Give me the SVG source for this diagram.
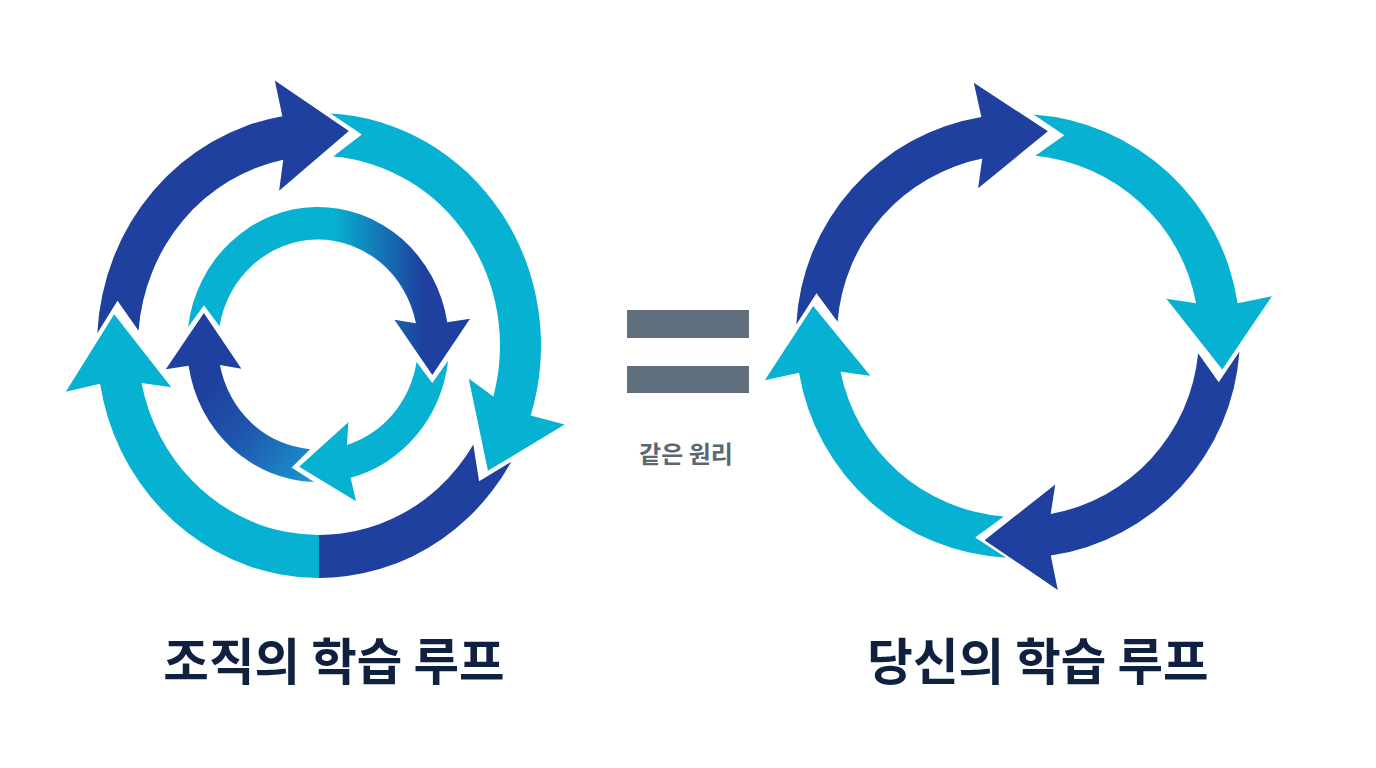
<svg xmlns="http://www.w3.org/2000/svg" xmlns:xlink="http://www.w3.org/1999/xlink" width="1376" height="768" viewBox="0 0 1376 768">
  <style>
    .dark { fill: #1f409e; }
    .light { fill: #07b1d1; }
    .title { font-family: "Noto Sans CJK KR", "Noto Sans", sans-serif; font-weight: 700; font-size: 49.5px; fill: #10213f; text-anchor: middle; }
    .sub { font-family: "Noto Sans CJK KR", "Noto Sans", sans-serif; font-weight: 700; font-size: 24px; fill: #5c6670; text-anchor: middle; }
    .bar { fill: #5f6f7e; }
  </style>
  <defs>
    <path id="oa" d="M -221.70 -11.62 L -201.50 -42.83 L -180.44 -14.20 A 181 181 0 0 1 -35.78 -177.43 L -39.86 -147.72 L 29.88 -204.83 L -44.19 -253.17 L -36.64 -218.96 A 222 222 0 0 0 -221.70 -11.62 Z"/>
    <linearGradient id="split" gradientUnits="userSpaceOnUse" x1="-10" y1="0" x2="10" y2="0">
      <stop offset="0" stop-color="#07b1d1"/>
      <stop offset="0.5" stop-color="#07b1d1"/>
      <stop offset="0.5" stop-color="#1f409e"/>
      <stop offset="1" stop-color="#1f409e"/>
    </linearGradient>
    <linearGradient id="in1" gradientUnits="userSpaceOnUse" x1="15" y1="0" x2="105" y2="0">
      <stop offset="0" stop-color="#07b1d1"/>
      <stop offset="1" stop-color="#1f409e"/>
    </linearGradient>
    <linearGradient id="in3" gradientUnits="userSpaceOnUse" x1="-100" y1="30" x2="0" y2="125">
      <stop offset="0" stop-color="#1f409e"/>
      <stop offset="0.4" stop-color="#1f55ae"/>
      <stop offset="1" stop-color="#1a98cc"/>
    </linearGradient>
  </defs>

  <rect width="1376" height="768" fill="#ffffff"/>

  <g id="org-loop-outer" transform="translate(319,345.5) scale(1,1.047)">
    <use xlink:href="#oa" href="#oa" class="dark"/>
    <path class="light" d="M 11.62 -221.70 L 42.83 -201.50 L 14.20 -180.44 A 181 181 0 0 1 174.33 48.67 L 149.71 31.55 L 168.94 119.62 L 245.64 75.57 L 211.73 66.76 A 222 222 0 0 0 11.62 -221.70 Z"/>
    <path fill="url(#split)" d="M 192.26 111.0 L 160.09 129.64 L 154.33 94.57 A 181 181 0 0 1 -177.43 35.78 L -147.72 39.86 L -204.83 -29.88 L -253.17 44.19 L -218.96 36.64 A 222 222 0 0 0 192.26 111.0 Z"/>
  </g>

  <g id="org-loop-inner" transform="translate(318,344.5) scale(1,1.05)">
    <path fill="url(#in1)" d="M -129.97 -16.42 L -114.00 -37.48 L -98.48 -17.37 A 100 100 0 0 1 97.92 -20.28 L 76.42 -23.66 L 114.34 29.15 L 152.02 -24.62 L 129.28 -21.17 A 131 131 0 0 0 -129.97 -16.42 Z"/>
    <path class="light" d="M 130.08 15.51 L 114.26 36.68 L 98.60 16.68 A 100 100 0 0 1 28.90 95.73 L 30.36 74.02 L -18.87 116.48 L 38.04 149.23 L 32.58 126.88 A 131 131 0 0 0 130.08 15.51 Z"/>
    <path fill="url(#in3)" d="M -3.89 130.94 L -26.38 117.06 L -7.85 99.69 A 100 100 0 0 1 -98.06 19.60 L -76.59 23.12 L -114.14 -29.94 L -152.19 23.57 L -129.42 20.27 A 131 131 0 0 0 -3.89 130.94 Z"/>
  </g>

  <g id="equals">
    <rect class="bar" x="627" y="310" width="122" height="28"/>
    <rect class="bar" x="627" y="366" width="122" height="27"/>
    <text class="sub" x="686" y="463">같은 원리</text>
  </g>

  <g id="your-loop" transform="translate(1018,336)">
    <use xlink:href="#oa" href="#oa" class="dark"/>
    <use xlink:href="#oa" href="#oa" class="light" transform="rotate(91)"/>
    <use xlink:href="#oa" href="#oa" class="dark" transform="rotate(181)"/>
    <use xlink:href="#oa" href="#oa" class="light" transform="rotate(270)"/>
  </g>

  <g id="titles">
    <text class="title" x="334" y="680">조직의 학습 루프</text>
    <text class="title" x="1038" y="680">당신의 학습 루프</text>
  </g>
</svg>
